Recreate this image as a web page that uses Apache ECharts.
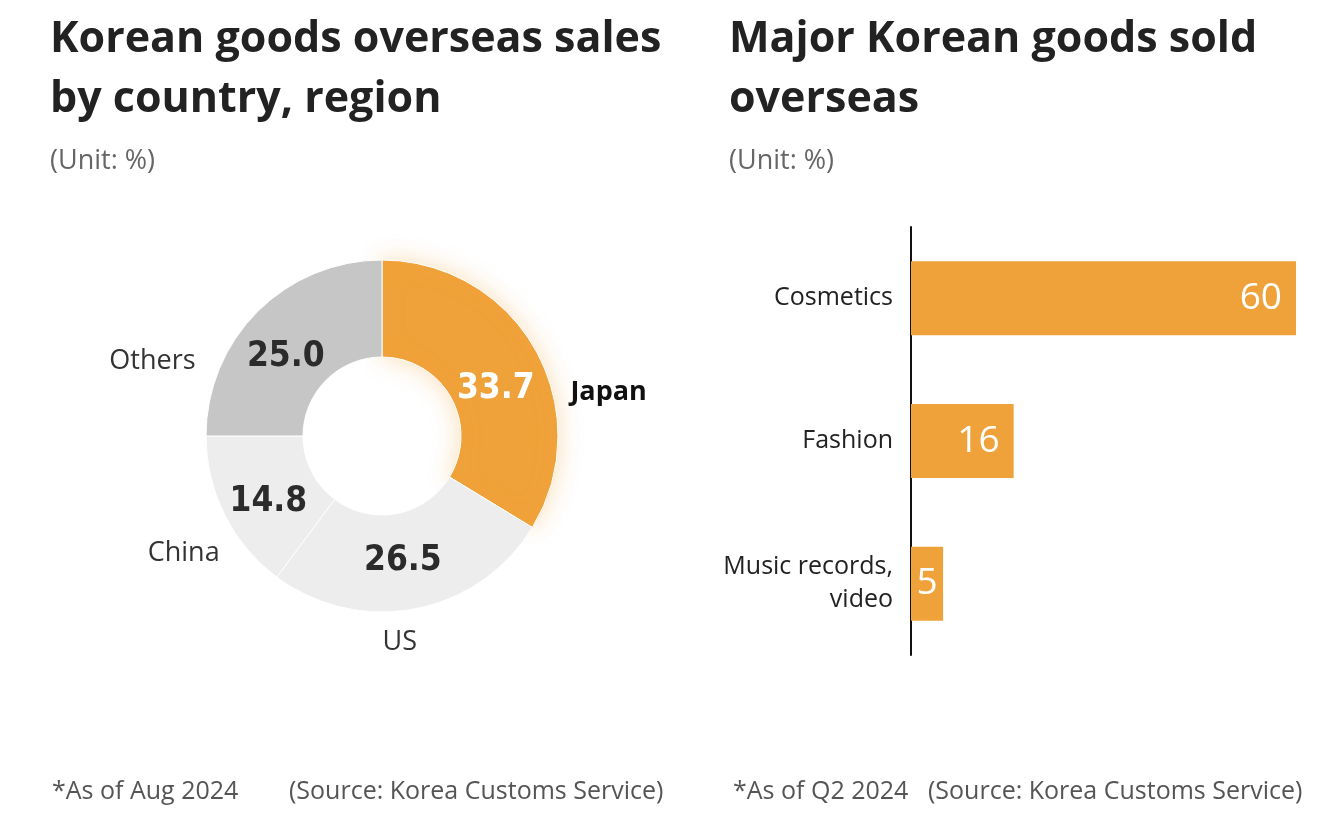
<!DOCTYPE html>
<html>
<head>
<meta charset="utf-8">
<script src="https://cdn.jsdelivr.net/npm/echarts@6/dist/echarts.min.js"></script>
<style>
html,body{margin:0;padding:0;background:#fff;}
#chart{width:1340px;height:824px;}
</style>
</head>
<body>
<div id="chart"></div>
<script>
// ---- Data ----
const regionNames = ['Japan', 'US', 'China', 'Others'];
const regionValues = [33.7, 26.5, 14.8, 25.0];
const goodsCategories = ['Cosmetics', 'Fashion', 'Music records,\nvideo'];
const goodsValues = [60, 16, 5];

const leftTitle = 'Korean goods overseas sales\nby country, region';
const rightTitle = 'Major Korean goods sold\noverseas';
const unitText = '(Unit: %)';
const leftNote = '*As of Aug 2024';
const rightNote = '*As of Q2 2024';
const sourceText = '(Source: Korea Customs Service)';

// ---- Styles ----
const FONT = '"Open Sans", "Noto Sans", sans-serif';
const NUMFONT = '"Liberation Sans Narrow", "DejaVu Sans Condensed", sans-serif';
const sliceColors = ['#F0A23A', '#EDEDED', '#EDEDED', '#C6C6C6'];
const innerLabelColors = ['#ffffff', '#2b2b2b', '#2b2b2b', '#2b2b2b'];
const innerShift = [[0, 17], [-4, -3], [3, 7], [-4, 13]];
const nameShift = [[30, 43], [-38, 34], [0, 38], [-57, 50]];

const chart = echarts.init(document.getElementById('chart'));

const titleStyle = {fontFamily: FONT, fontSize: 43, fontWeight: 'bold', color: '#222', lineHeight: 60};
const subStyle = {fontFamily: FONT, fontSize: 27, color: '#666', lineHeight: 32};
const noteStyle = {fontFamily: FONT, fontSize: 25, fontWeight: 'normal', color: '#555'};

chart.setOption({
  backgroundColor: '#ffffff',
  animation: false,
  title: [
    {text: leftTitle, subtext: unitText, left: 50, top: 10, itemGap: 15, textStyle: titleStyle, subtextStyle: subStyle, padding: 0},
    {text: rightTitle, subtext: unitText, left: 729, top: 10, itemGap: 15, textStyle: titleStyle, subtextStyle: subStyle, padding: 0},
    {text: leftNote, left: 52, top: 779, textStyle: noteStyle, padding: 0},
    {text: sourceText, left: 289, top: 779, textStyle: noteStyle, padding: 0},
    {text: rightNote, left: 733, top: 779, textStyle: noteStyle, padding: 0},
    {text: sourceText, left: 928, top: 779, textStyle: noteStyle, padding: 0}
  ],
  grid: {left: 911, width: 385, top: 227, height: 428},
  xAxis: {type: 'value', min: 0, max: 60, show: false, splitLine: {show: false}},
  yAxis: {
    type: 'category',
    inverse: true,
    data: goodsCategories,
    axisLine: {show: true, lineStyle: {color: '#111', width: 2}},
    axisTick: {show: false},
    axisLabel: {fontFamily: FONT, fontSize: 25, color: '#222', margin: 18, lineHeight: 33}
  },
  series: [
    {
      type: 'pie',
      center: [382, 436],
      radius: [79, 176],
      startAngle: 90,
      clockwise: true,
      silent: true,
      data: regionNames.map((n, i) => ({
        name: n,
        value: regionValues[i],
        itemStyle: Object.assign({color: sliceColors[i]}, i === 0 ? {shadowBlur: 24, shadowColor: 'rgba(240,162,58,0.35)'} : {}),
        label: {color: innerLabelColors[i]}
      })),
      itemStyle: {borderColor: '#ffffff', borderWidth: 1},
      label: {
        show: true,
        position: 'inside',
        formatter: p => p.value.toFixed(1),
        fontFamily: NUMFONT,
        fontSize: 35,
        fontWeight: 'bold'
      },
      labelLine: {show: false},
      labelLayout: p => ({dx: innerShift[p.dataIndex][0], dy: innerShift[p.dataIndex][1]})
    },
    {
      type: 'pie',
      center: [382, 436],
      radius: [79, 176],
      startAngle: 90,
      clockwise: true,
      silent: true,
      z: 1,
      data: regionNames.map((n, i) => ({
        name: n,
        value: regionValues[i],
        label: i === 0 ? {fontWeight: 'bold', color: '#111'} : {}
      })),
      itemStyle: {color: 'rgba(0,0,0,0)'},
      label: {
        show: true,
        position: 'outside',
        formatter: '{b}',
        fontFamily: FONT,
        fontSize: 27,
        color: '#333',
        distanceToLabelLine: 5
      },
      labelLine: {show: false, length: 0, length2: 0},
      avoidLabelOverlap: false,
      labelLayout: p => ({dx: nameShift[p.dataIndex][0], dy: nameShift[p.dataIndex][1]})
    },
    {
      type: 'bar',
      data: goodsValues.map(v => v < 10 ? {value: v, label: {position: 'inside'}} : v),
      barWidth: 74,
      itemStyle: {color: '#F0A23A'},
      label: {
        show: true,
        position: 'insideRight',
        distance: 14,
        color: '#ffffff',
        fontFamily: FONT,
        fontSize: 37
      },
      silent: true
    }
  ]
});
</script>
</body>
</html>
